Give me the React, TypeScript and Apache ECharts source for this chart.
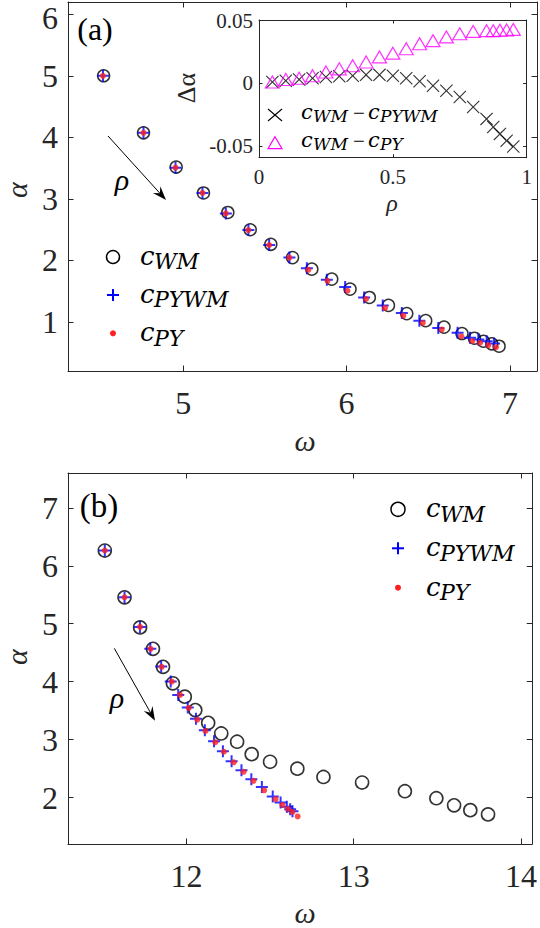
import React, { useEffect, useRef } from "react";
import * as echarts from "echarts";

// ---------- Panel (a) ----------
const aOmegaWM = [4.513, 4.757, 4.957, 5.124, 5.273, 5.41, 5.536, 5.669, 5.787, 5.909, 6.021, 6.139, 6.256, 6.368, 6.484, 6.596, 6.706, 6.782, 6.837, 6.888, 6.933];
const aAlphaWM = [5.0, 4.073, 3.516, 3.095, 2.778, 2.497, 2.26, 2.044, 1.856, 1.694, 1.532, 1.396, 1.267, 1.133, 1.019, 0.914, 0.809, 0.733, 0.684, 0.642, 0.603];
const aOmegaPYWM = [4.509, 4.757, 4.953, 5.118, 5.261, 5.399, 5.526, 5.65, 5.757, 5.879, 5.991, 6.107, 6.221, 6.338, 6.445, 6.561, 6.679, 6.755, 6.806, 6.857, 6.902];
const aAlphaPYWM = [5.0, 4.073, 3.506, 3.095, 2.762, 2.492, 2.249, 2.044, 1.872, 1.683, 1.565, 1.396, 1.267, 1.144, 1.019, 0.901, 0.82, 0.739, 0.712, 0.684, 0.647];
const aOmegaPY = [4.509, 4.757, 4.953, 5.118, 5.261, 5.399, 5.526, 5.65, 5.766, 5.883, 6.005, 6.119, 6.235, 6.347, 6.466, 6.582, 6.702, 6.769, 6.817, 6.867, 6.914];
const aAlphaPY = [5.0, 4.073, 3.506, 3.095, 2.762, 2.492, 2.249, 2.044, 1.845, 1.667, 1.505, 1.371, 1.225, 1.1, 0.982, 0.874, 0.765, 0.688, 0.659, 0.62, 0.587];

// ---------- Inset ----------
const rho = [0.05, 0.1, 0.15, 0.2, 0.25, 0.3, 0.35, 0.4, 0.45, 0.5, 0.55, 0.6, 0.65, 0.7, 0.75, 0.8, 0.85, 0.875, 0.9, 0.925, 0.95];
const dAlphaWMminusPYWM = [0.001, 0.002, 0.003, 0.004, 0.005, 0.0056, 0.006, 0.0067, 0.0067, 0.006, 0.004, 0.0016, -0.002, -0.006, -0.011, -0.019, -0.0285, -0.035, -0.0405, -0.046, -0.0505];
const dAlphaWMminusPY = [0.001, 0.003, 0.004, 0.006, 0.009, 0.0115, 0.014, 0.017, 0.021, 0.024, 0.0275, 0.0315, 0.034, 0.037, 0.0395, 0.0414, 0.042, 0.042, 0.0423, 0.0425, 0.043];

// ---------- Panel (b) ----------
const bOmegaWM = [11.512, 11.63, 11.723, 11.8, 11.86, 11.919, 11.99, 12.053, 12.13, 12.208, 12.303, 12.39, 12.5, 12.663, 12.819, 13.05, 13.306, 13.494, 13.6, 13.697, 13.803];
const bAlphaWM = [6.263, 5.455, 4.936, 4.567, 4.256, 3.972, 3.742, 3.51, 3.29, 3.107, 2.964, 2.75, 2.618, 2.5, 2.356, 2.26, 2.11, 1.99, 1.867, 1.784, 1.71];
const bOmegaPYWM = [11.512, 11.63, 11.722, 11.784, 11.849, 11.906, 11.951, 12.008, 12.057, 12.11, 12.165, 12.218, 12.27, 12.329, 12.388, 12.451, 12.516, 12.563, 12.6, 12.62, 12.634];
const bAlphaPYWM = [6.263, 5.455, 4.945, 4.57, 4.26, 4.005, 3.772, 3.553, 3.362, 3.163, 2.972, 2.8, 2.627, 2.471, 2.315, 2.182, 2.021, 1.914, 1.843, 1.8, 1.765];
const bOmegaPY = [11.512, 11.63, 11.723, 11.786, 11.852, 11.913, 11.962, 12.014, 12.065, 12.114, 12.173, 12.224, 12.283, 12.342, 12.401, 12.465, 12.533, 12.574, 12.607, 12.634, 12.665];
const bAlphaPY = [6.263, 5.455, 4.945, 4.567, 4.256, 4.002, 3.772, 3.547, 3.344, 3.149, 2.955, 2.791, 2.609, 2.445, 2.289, 2.126, 1.974, 1.874, 1.805, 1.753, 1.676];

// tick labels
const aXTicks = [5, 6, 7];
const aYTicks = [1, 2, 3, 4, 5, 6];
const aYTopLabel = "6";
const insetXTicks = [0, 0.5, 1];
const insetYTicks = [-0.05, 0, 0.05];
const bXTicks = [12, 13, 14];
const bYTicks = [2, 3, 4, 5, 6, 7];

const zip = (xs: number[], ys: number[]) => xs.map((x, i) => [x, ys[i]]);

const AX = "#262626";
const SERIF = "'Liberation Serif', 'Times New Roman', serif";
const MATH = "'DejaVu Serif', serif";
const PLUS = "path://M5,0H7V5H12V7H7V12H5V7H0V5H5Z";
const CROSS = "path://M0,0.8L0.8,0L6.5,5.7L12.2,0L13,0.8L7.3,6.5L13,12.2L12.2,13L6.5,7.3L0.8,13L0,12.2L5.7,6.5Z";

function txt(text: string, x: number, y: number, size: number, o: any = {}) {
  const align = o.align || "left";
  return {
    type: "text",
    x,
    y,
    rotation: o.rotation || 0,
    silent: true,
    z: 100,
    style: {
      text,
      x: 0,
      y: 0,
      fill: o.fill || AX,
      fontSize: size,
      fontFamily: o.family || SERIF,
      fontStyle: o.italic ? "italic" : "normal",
      align,
      textAlign: align,
      verticalAlign: "middle",
      textVerticalAlign: "middle",
    },
  };
}

function arrow(x1: number, y1: number, x2: number, y2: number) {
  const dx = x2 - x1, dy = y2 - y1;
  const L = Math.sqrt(dx * dx + dy * dy);
  const ux = dx / L, uy = dy / L;
  const px = -uy, py = ux;
  const hl = 14, hw = 5, notch = 9;
  const bx = x2 - hl * ux, by = y2 - hl * uy;
  const nx = x2 - notch * ux, ny = y2 - notch * uy;
  return [
    { type: "line", silent: true, z: 100, shape: { x1, y1, x2: nx, y2: ny }, style: { stroke: "#000", lineWidth: 1 } },
    {
      type: "polygon",
      silent: true,
      z: 100,
      shape: { points: [[x2, y2], [bx + hw * px, by + hw * py], [nx, ny], [bx - hw * px, by - hw * py]] },
      style: { fill: "#000" },
    },
  ];
}

function mainLegend(mx: number, rows: number[], cx: number, sx: number, r: number) {
  const subs = ["WM", "PYWM", "PY"];
  const els: any[] = [];
  els.push({ type: "circle", silent: true, z: 100, shape: { cx: mx, cy: rows[0], r }, style: { fill: "none", stroke: "#000", lineWidth: 1.5 } });
  els.push({ type: "rect", silent: true, z: 100, shape: { x: mx - 6, y: rows[1] - 1, width: 12, height: 2 }, style: { fill: "#0000ff" } });
  els.push({ type: "rect", silent: true, z: 100, shape: { x: mx - 1, y: rows[1] - 6, width: 2, height: 12 }, style: { fill: "#0000ff" } });
  els.push({ type: "circle", silent: true, z: 100, shape: { cx: mx, cy: rows[2], r: 3 }, style: { fill: "#ff1f1f" } });
  rows.forEach((m, i) => {
    els.push(txt("c", cx, m - 1.2, 26, { italic: true, family: MATH, fill: "#000" }));
    els.push(txt(subs[i], sx, m + 4.8, 22, { italic: true, family: MATH, fill: "#000" }));
  });
  return els;
}

function insetLegend() {
  const els: any[] = [];
  const mx = 275;
  const r1 = 115, r2 = 142.7;
  els.push({ type: "line", silent: true, z: 100, shape: { x1: mx - 7, y1: r1 - 6, x2: mx + 7, y2: r1 + 6 }, style: { stroke: "#000", lineWidth: 1.1 } });
  els.push({ type: "line", silent: true, z: 100, shape: { x1: mx - 7, y1: r1 + 6, x2: mx + 7, y2: r1 - 6 }, style: { stroke: "#000", lineWidth: 1.1 } });
  els.push({ type: "polygon", silent: true, z: 100, shape: { points: [[mx, r2 - 6], [mx + 7, r2 + 6], [mx - 7, r2 + 6]] }, style: { fill: "none", stroke: "#ff00ff", lineWidth: 1.2 } });
  const rowsDef: [number, string][] = [[r1, "PYWM"], [r2, "PY"]];
  rowsDef.forEach(([m, sub]) => {
    els.push(txt("c", 301, m - 3, 21, { italic: true, family: MATH, fill: "#000" }));
    els.push(txt("WM", 313, m + 0.8, 17, { italic: true, family: MATH, fill: "#000" }));
    els.push(txt("\u2212", 359, m - 2, 21, { align: "center", fill: "#000" }));
    els.push(txt("c", 368, m - 3, 21, { italic: true, family: MATH, fill: "#000" }));
    els.push(txt(sub, 380, m + 0.8, 17, { italic: true, family: MATH, fill: "#000" }));
  });
  return els;
}

function makeAxis(gridIndex: number, pos: string, min: number, max: number, ticks: number[], tickLen: number, label: any, labelValues?: number[]) {
  return {
    type: "value",
    gridIndex,
    position: pos,
    min,
    max,
    axisLine: { show: true, onZero: false, lineStyle: { color: AX, width: 1 } },
    splitLine: { show: false },
    axisTick: { show: true, inside: true, length: tickLen, customValues: ticks, lineStyle: { color: AX, width: 1 } },
    axisLabel: label ? { show: true, customValues: labelValues || ticks, color: AX, fontFamily: SERIF, ...label } : { show: false },
  };
}

export default function App() {
  const ref = useRef<HTMLDivElement>(null);
  useEffect(() => {
    if (!ref.current) return;
    const chart = echarts.init(ref.current, null, { renderer: "svg" });
    const circleA = { color: "rgba(0,0,0,0)", borderColor: "#000", borderWidth: 1.5 };
    const option: any = {
      animation: false,
      backgroundColor: "#fff",
      textStyle: { fontFamily: SERIF },
      grid: [
        { left: 68, top: 2, width: 469, height: 369, show: false },
        { left: 259, top: 20, width: 267.7, height: 137.7, show: true, backgroundColor: "#fff", borderWidth: 0, z: 3 },
        { left: 68, top: 473, width: 469, height: 371, show: false },
      ],
      xAxis: [
        makeAxis(0, "bottom", 4.295, 7.165, aXTicks, 5.5, { fontSize: 32, margin: 16 }),
        makeAxis(0, "top", 4.295, 7.165, aXTicks, 5.5, null),
        { ...makeAxis(1, "bottom", 0, 1, insetXTicks, 3.5, { fontSize: 21, margin: 9, formatter: (v: number) => String(v) }), z: 4 },
        { ...makeAxis(1, "top", 0, 1, insetXTicks, 3.5, null), z: 4 },
        makeAxis(2, "bottom", 11.292, 14.067, bXTicks, 5.5, { fontSize: 32, margin: 16 }),
        makeAxis(2, "top", 11.292, 14.067, bXTicks, 5.5, null),
      ],
      yAxis: [
        makeAxis(0, "left", 0.2, 6.2, aYTicks, 5.5, { fontSize: 32, margin: 10, padding: [3, 0, 0, 0] }, aYTicks.slice(0, 5)),
        makeAxis(0, "right", 0.2, 6.2, aYTicks, 5.5, null),
        { ...makeAxis(1, "left", -0.0595, 0.0505, insetYTicks, 3.5, { fontSize: 21, margin: 6, formatter: (v: number) => (Math.abs(v) < 1e-9 ? "0" : v.toFixed(2)) }), z: 4 },
        { ...makeAxis(1, "right", -0.0595, 0.0505, insetYTicks, 3.5, null), z: 4 },
        makeAxis(2, "left", 1.2, 7.6, bYTicks, 5.5, { fontSize: 32, margin: 10, padding: [3, 0, 0, 0] }),
        makeAxis(2, "right", 1.2, 7.6, bYTicks, 5.5, null),
      ],
      series: [
        { type: "scatter", xAxisIndex: 0, yAxisIndex: 0, silent: true, data: zip(aOmegaWM, aAlphaWM), symbol: "circle", symbolSize: 12, itemStyle: circleA },
        { type: "scatter", xAxisIndex: 0, yAxisIndex: 0, silent: true, data: zip(aOmegaPYWM, aAlphaPYWM), symbol: PLUS, symbolSize: 12, itemStyle: { color: "#0000ff" } },
        { type: "scatter", xAxisIndex: 0, yAxisIndex: 0, silent: true, data: zip(aOmegaPY, aAlphaPY), symbol: "circle", symbolSize: 6, itemStyle: { color: "#ff1f1f" } },
        { type: "scatter", xAxisIndex: 2, yAxisIndex: 2, silent: true, z: 5, data: zip(rho, dAlphaWMminusPYWM), symbol: CROSS, symbolSize: 13, itemStyle: { color: "#000" } },
        { type: "scatter", xAxisIndex: 2, yAxisIndex: 2, silent: true, z: 5, data: zip(rho, dAlphaWMminusPY), symbol: "triangle", symbolSize: [14, 12], itemStyle: { color: "rgba(0,0,0,0)", borderColor: "#ff00ff", borderWidth: 1.2 } },
        { type: "scatter", xAxisIndex: 4, yAxisIndex: 4, silent: true, data: zip(bOmegaWM, bAlphaWM), symbol: "circle", symbolSize: 13, itemStyle: { color: "rgba(0,0,0,0)", borderColor: "#000", borderWidth: 1.6 } },
        { type: "scatter", xAxisIndex: 4, yAxisIndex: 4, silent: true, data: zip(bOmegaPYWM, bAlphaPYWM), symbol: PLUS, symbolSize: 12, itemStyle: { color: "#0000ff" } },
        { type: "scatter", xAxisIndex: 4, yAxisIndex: 4, silent: true, data: zip(bOmegaPY, bAlphaPY), symbol: "circle", symbolSize: 6, itemStyle: { color: "#ff1f1f" } },
      ],
      graphic: [
        txt(aYTopLabel, 58, 18, 32, { align: "right" }),
        txt("(a)", 95, 28.5, 32, { align: "center", fill: "#000" }),
        txt("(b)", 99, 506, 33, { align: "center", fill: "#000" }),
        txt("\u03b1", 16, 190, 30, { align: "center", italic: true, rotation: Math.PI / 2 }),
        txt("\u03b1", 16, 657, 30, { align: "center", italic: true, rotation: Math.PI / 2 }),
        txt("\u03c9", 305, 440.7, 30, { align: "center", italic: true }),
        txt("\u03c9", 305, 912.7, 30, { align: "center", italic: true }),
        txt("\u03c1", 122, 179.4, 30, { align: "center", italic: true, fill: "#000" }),
        txt("\u03c1", 117, 697.4, 30, { align: "center", italic: true, fill: "#000" }),
        txt("\u03c1", 392, 202.7, 24, { align: "center", italic: true }),
        txt("\u0394\u03b1", 186, 88, 26, { align: "center", rotation: Math.PI / 2 }),
        ...arrow(108, 136, 166, 200),
        ...arrow(114.3, 648.3, 155, 720.7),
        ...mainLegend(113, [257, 295, 333.3], 140, 154, 6.5),
        ...mainLegend(398, [509.3, 548.3, 587.7], 426, 440, 7),
        ...insetLegend(),
      ],
    };
    chart.setOption(option);
    return () => chart.dispose();
  }, []);
  return <div ref={ref} style={{ position: "fixed", left: 0, top: 0, width: 540, height: 928, background: "#fff" }} />;
}
